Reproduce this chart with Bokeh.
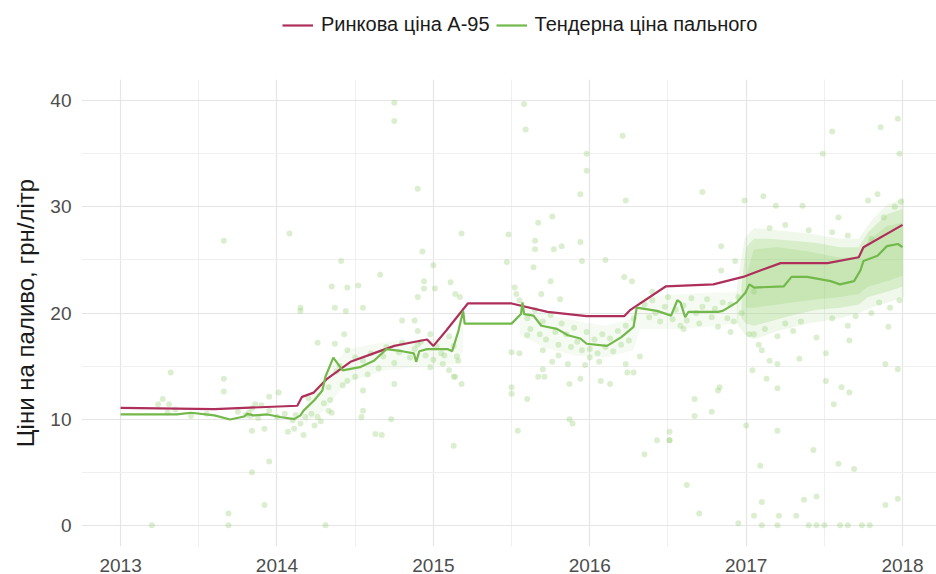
from bokeh.plotting import figure
from bokeh.layouts import column
from bokeh.models import FixedTicker, Legend, LegendItem
from bokeh.embed import file_html
from bokeh.resources import INLINE

# ---- data (decimal years) ----
market_x = [2013.0, 2013.6, 2014.13, 2014.16, 2014.235, 2014.32, 2014.47, 2014.6, 2014.75,
            2014.85, 2014.96, 2015.0, 2015.08, 2015.22, 2015.5, 2015.73, 2015.98, 2016.22,
            2016.26, 2016.485, 2016.79, 2016.98, 2017.09, 2017.22, 2017.52, 2017.72,
            2017.75, 2018.0]
market_y = [11.07, 10.95, 11.26, 12.1, 12.5, 13.8, 15.4, 16.1, 16.9,
            17.2, 17.5, 16.9, 18.3, 20.9, 20.9, 20.1, 19.7, 19.7,
            20.3, 22.5, 22.7, 23.4, 24.0, 24.7, 24.7, 25.25,
            26.2, 28.3]

tender_x = [2013.0, 2013.36, 2013.45, 2013.6, 2013.7, 2013.79, 2013.81, 2013.85, 2013.94,
            2014.02, 2014.11, 2014.15, 2014.17, 2014.24, 2014.29, 2014.31, 2014.36, 2014.42,
            2014.53, 2014.62, 2014.7, 2014.8, 2014.875, 2014.89, 2014.91, 2014.96, 2015.09,
            2015.12, 2015.16, 2015.19, 2015.2, 2015.5, 2015.56, 2015.57, 2015.58, 2015.64,
            2015.69, 2015.79, 2015.86, 2015.94, 2015.98, 2016.11, 2016.2, 2016.28, 2016.3,
            2016.43, 2016.52, 2016.56, 2016.58, 2016.61, 2016.63, 2016.82, 2016.85, 2016.94,
            2016.995, 2017.02, 2017.05, 2017.24, 2017.29, 2017.39, 2017.54, 2017.6, 2017.69,
            2017.73, 2017.75, 2017.84, 2017.9, 2017.97, 2018.0]
tender_y = [10.44, 10.44, 10.6, 10.35, 9.97, 10.25, 10.5, 10.35, 10.44,
            10.2, 10.0, 10.35, 10.8, 11.8, 12.7, 14.0, 15.8, 14.6,
            14.9, 15.5, 16.6, 16.4, 16.2, 15.4, 16.4, 16.6, 16.6,
            16.4, 18.3, 20.2, 19.0, 19.0, 19.9, 21.0, 19.9, 19.75,
            18.8, 18.5, 17.9, 17.6, 17.1, 16.9, 17.7, 18.7, 20.5,
            20.2, 19.75, 21.2, 21.0, 19.6, 20.1, 20.1, 20.2, 21.0,
            21.9, 22.7, 22.4, 22.5, 23.4, 23.4, 23.0, 22.7, 23.0,
            24.0, 24.9, 25.4, 26.3, 26.5, 26.2]

# individual tenders (scatter)
tender_pts_x = [
    2014.75, 2014.75, 2014.9, 2013.66, 2014.08, 2015.18, 2014.41, 2014.93, 2014.66, 2014.35,
    2014.45, 2014.52, 2014.94, 2014.94, 2014.9, 2015.01, 2015.11, 2015.14, 2015.17, 2015.0,
    2014.15, 2014.37, 2014.55, 2015.58, 2015.59, 2016.21, 2017.97, 2017.86, 2017.55, 2015.98,
    2015.98, 2017.49, 2017.98, 2015.94, 2016.23, 2016.72, 2016.99, 2017.11, 2017.19, 2017.36,
    2015.67, 2015.76, 2015.48, 2015.65, 2015.65, 2015.77, 2015.82, 2015.94, 2015.47, 2015.95,
    2016.1, 2016.84, 2017.59, 2017.78, 2017.84, 2015.64, 2015.75, 2015.81, 2015.69, 2016.22,
    2016.27, 2016.93, 2016.84, 2015.52, 2015.53, 2015.55,
    2013.32, 2013.66, 2013.66, 2013.27, 2013.24, 2013.31, 2014.01, 2013.95, 2013.9,
    2013.84, 2013.86, 2013.84, 2013.92, 2013.95, 2013.84, 2013.92, 2013.69, 2013.69, 2014.31,
    2014.11, 2014.07, 2014.17, 2014.24, 2014.26, 2014.34, 2014.33, 2014.43, 2014.37, 2014.15,
    2014.44, 2014.45, 2014.55, 2014.55, 2014.54, 2014.63, 2014.67, 2014.75, 2015.13, 2015.13,
    2014.73, 2014.8, 2014.9, 2014.98, 2014.88, 2014.98, 2015.06, 2015.1, 2015.14, 2015.18, 2015.16,
    2015.5, 2015.5, 2015.5, 2015.54, 2015.6, 2015.7, 2015.71, 2015.87, 2015.87, 2015.89, 2015.94,
    2016.07, 2016.13, 2016.24, 2016.28, 2015.67, 2015.76, 2015.86, 2015.97, 2016.06, 2016.23,
    2016.35, 2016.43, 2016.51, 2016.51, 2016.51, 2016.62, 2016.67, 2016.78, 2016.82, 2016.83,
    2016.67, 2016.7, 2016.95, 2017.0, 2017.04, 2017.13, 2017.2, 2017.34, 2017.51, 2017.51,
    2017.56, 2017.61, 2017.66, 2017.66, 2017.91, 2017.89, 2017.97, 2017.2, 2017.2, 2017.59,
    2017.43, 2017.69, 2017.09, 2017.1, 2017.21, 2017.32, 2017.37, 2017.45, 2017.89, 2017.97,
    2017.05, 2017.1, 2017.2, 2017.4, 2017.45, 2017.5, 2017.6, 2017.65, 2017.74, 2017.79,
    2013.2, 2013.3, 2013.35, 2013.45, 2013.55, 2013.75, 2013.8, 2013.82, 2013.83, 2013.88,
    2013.95, 2014.0, 2014.05, 2014.1, 2014.12, 2014.15, 2014.18,
    2014.35, 2014.4, 2014.45, 2014.5, 2014.55, 2014.6, 2014.65, 2014.7, 2014.75, 2014.8,
    2014.85, 2014.9, 2014.95, 2015.0, 2015.05, 2015.1, 2015.15, 2014.26, 2014.3, 2014.2,
    2014.22, 2014.28, 2014.33, 2014.38, 2014.42, 2014.5, 2014.58, 2014.68, 2014.78, 2014.88,
    2014.92, 2015.02, 2015.07, 2015.13,
    2015.55, 2015.6, 2015.62, 2015.65, 2015.68, 2015.7, 2015.72, 2015.75, 2015.78, 2015.8,
    2015.82, 2015.85, 2015.88, 2015.9, 2015.92, 2015.95, 2015.98, 2016.0, 2016.03, 2016.05,
    2016.08, 2016.1, 2016.13, 2016.15, 2016.18, 2016.2, 2016.23, 2016.25, 2016.28, 2015.6,
    2015.7, 2015.8, 2016.0,
    2016.32, 2016.35, 2016.38, 2016.4, 2016.42, 2016.45, 2016.48, 2016.5, 2016.53, 2016.55,
    2016.58, 2016.6, 2016.62, 2016.65, 2016.68, 2016.7, 2016.72, 2016.75, 2016.78, 2016.8,
    2016.82, 2016.85, 2016.88, 2016.9, 2016.92, 2016.95, 2016.97, 2016.4, 2016.6, 2016.9,
    2017.02, 2017.05, 2017.08, 2017.1, 2017.12, 2017.15, 2017.2, 2017.25, 2017.3, 2017.35,
    2017.45, 2017.55, 2017.65, 2017.7, 2017.8, 2017.85, 2017.92, 2017.98, 2017.05, 2017.15,
    2017.25, 2017.4, 2017.55, 2017.65, 2017.8, 2017.88, 2017.95, 2017.99,
]
tender_pts_y = [
    39.8, 38.1, 31.7, 26.8, 27.5, 27.5, 24.9, 25.8, 23.6, 22.5,
    22.4, 22.6, 23.0, 22.3, 21.5, 22.3, 22.9, 21.8, 21.5, 24.5,
    20.5, 20.5, 20.5, 39.7, 37.3, 36.7, 38.3, 37.5, 37.1, 35.0,
    33.4, 35.0, 35.0, 31.2, 30.6, 31.4, 30.6, 31.0, 30.1, 30.1,
    28.5, 29.1, 27.4, 26.8, 26.0, 26.0, 26.3, 26.7, 24.8, 24.9,
    25.0, 26.3, 29.0, 30.6, 31.2, 24.3, 23.0, 21.3, 21.8, 23.4,
    23.0, 24.9, 24.0, 22.4, 21.8, 21.2,
    14.4, 13.8, 12.6, 11.9, 11.4, 11.4, 12.5, 12.1, 11.3,
    11.0, 11.4, 8.9, 9.1, 6.0, 5.0, 1.9, 1.1, 0.0, 0.0,
    9.1, 8.8, 8.5, 9.4, 10.2, 11.8, 10.8, 18.0, 17.1, 20.2,
    20.2, 13.6, 12.7, 10.8, 10.2, 8.6, 8.5, 13.3, 14.0, 7.5, 10.0,
    19.3, 18.3, 18.0, 19.3, 14.9, 15.2, 14.6, 14.0, 13.3, 15.5, 12.4,
    16.3, 13.0, 8.9, 11.9, 14.7, 14.0, 13.3, 10.0, 9.6, 13.8, 13.6,
    13.3, 14.4, 14.4, 14.0, 15.4, 15.2, 15.1, 15.4, 15.2, 6.7,
    8.0, 8.0, 8.0, 8.8, 3.8, 10.3, 10.7, 12.7, 13.0, 11.9,
    1.1, 0.2, 9.4, 14.6, 13.8, 15.2, 15.7, 13.6, 16.2, 11.4,
    13.0, 12.5, 17.4, 18.7, 15.2, 14.7, 12.9, 8.9, 5.8, 7.1,
    5.3, 5.6, 2.2, 0.9, 0.9, 2.4, 2.7, 1.9, 2.5, 0.9,
    0.0, 0.0, 0.0, 0.0, 0.0, 0.0, 0.0, 0.0, 0.0, 0.0,
    10.6, 10.9, 10.3, 10.5, 10.7, 10.4, 10.6, 10.3, 10.1, 10.8,
    10.2, 10.5, 9.9, 10.4, 9.6, 10.2, 10.6,
    15.0, 16.5, 14.0, 15.5, 16.2, 14.8, 16.8, 15.3, 17.2, 15.8,
    17.0, 16.0, 15.6, 16.2, 17.8, 15.9, 17.2, 11.5, 12.0, 10.5,
    9.8, 13.0, 14.5, 13.2, 15.8, 14.2, 15.9, 16.3, 16.6, 17.3,
    16.9, 16.0, 16.9, 16.2,
    19.5, 18.5, 20.3, 18.0, 19.2, 17.5, 19.8, 18.2, 17.0, 19.0,
    18.0, 16.8, 18.6, 17.3, 16.5, 18.2, 16.6, 17.5, 16.2, 18.0,
    16.8, 17.6, 16.4, 18.3, 17.0, 18.8, 17.4, 19.5, 17.9, 16.5,
    16.0, 15.8, 15.9,
    20.8, 19.6, 21.2, 20.0, 19.2, 20.6, 21.5, 19.4, 20.3, 18.8,
    20.7, 19.3, 21.4, 20.0, 19.0, 20.6, 21.3, 19.6, 20.4, 18.7,
    21.0, 19.5, 20.8, 19.2, 21.5, 20.0, 22.0, 18.5, 18.2, 18.0,
    18.0, 17.0, 16.5, 18.5, 15.5, 17.8, 19.0, 18.3, 19.2, 17.7,
    19.5, 18.8, 19.7, 20.0, 21.0, 20.5, 21.2, 22.0, 28.0, 28.3,
    27.8, 27.6, 27.3, 27.0, 29.0, 30.0, 30.5, 29.5,
]

# denser tender clouds (faint haze 2014-2015 and 2015-2016, envelopes for 2017)
haze1_x = [2014.18, 2014.3, 2014.45, 2014.7, 2014.95, 2015.15, 2015.19]
haze1_lo = [9.6, 10.8, 13.5, 14.6, 15.0, 15.2, 16.5]
haze1_hi = [11.2, 14.3, 16.6, 17.3, 17.5, 17.8, 19.0]
haze2_x = [2015.55, 2015.7, 2015.9, 2016.1, 2016.28, 2016.32, 2016.6, 2016.95]
haze2_lo = [18.0, 16.8, 16.0, 15.8, 16.5, 18.5, 18.5, 19.0]
haze2_hi = [20.5, 20.0, 19.3, 18.8, 19.5, 21.5, 21.8, 22.0]
halo_x = [2016.94, 2016.99, 2017.05, 2017.2, 2017.4, 2017.6, 2017.72, 2017.8, 2017.9, 2018.01]
halo_lo = [19.0, 18.0, 17.5, 18.3, 19.0, 19.5, 20.0, 20.5, 21.0, 21.5]
halo_hi = [22.5, 27.0, 28.0, 27.8, 27.5, 27.0, 27.0, 28.7, 30.2, 30.8]
cloud_x = [2016.97, 2017.0, 2017.05, 2017.15, 2017.3, 2017.45, 2017.6, 2017.72, 2017.78, 2017.9, 2018.0]
cloud_lo = [19.5, 19.0, 18.8, 19.2, 19.8, 20.3, 20.5, 20.8, 21.5, 22.0, 22.5]
cloud_hi = [22.5, 26.2, 27.0, 27.0, 26.8, 26.6, 26.2, 26.2, 27.6, 29.3, 29.8]
core_x = [2017.0, 2017.05, 2017.2, 2017.4, 2017.6, 2017.72, 2017.78, 2017.9, 2018.0]
core_lo = [20.5, 20.5, 20.8, 21.2, 21.5, 21.8, 22.5, 23.0, 23.5]
core_hi = [23.5, 26.0, 26.2, 25.8, 25.2, 25.3, 26.8, 28.2, 28.5]

years = [2013, 2014, 2015, 2016, 2017, 2018]
half_years = [2012.5, 2013.5, 2014.5, 2015.5, 2016.5, 2017.5, 2018.5]
y_ticks = [0, 10, 20, 30, 40]
y_minor = [-5, 5, 15, 25, 35, 45]
series_names = ["Ринкова ціна А-95", "Тендерна ціна пального"]

RED = "#ae2f5a"
GREEN = "#72b84a"
PT = "#93cf70"
FONT = "Liberation Sans"

W, H = 936, 574
TOP_H = 40
LEFT = 81

# ---- legend strip on top (its lines hold the same series, outside its view) ----
top = figure(width=W, height=TOP_H, x_range=(0, 1), y_range=(0, 1),
             output_backend="svg", toolbar_location=None,
             min_border_left=LEFT, min_border_right=0, min_border_top=0, min_border_bottom=0)
top.outline_line_color = None
top.axis.visible = False
top.grid.visible = False
lg_market = top.line(market_x, market_y, line_color=RED, line_width=2.2)
lg_tender = top.line(tender_x, tender_y, line_color=GREEN, line_width=2.2)
legend = Legend(items=[LegendItem(label=series_names[0], renderers=[lg_market]),
                       LegendItem(label=series_names[1], renderers=[lg_tender])],
                location=(201, 4), orientation="horizontal",
                label_text_font=FONT, label_text_font_size="20px", label_text_color="#1a1a1a",
                glyph_width=31, glyph_height=20, label_standoff=8, spacing=6,
                padding=0, margin=0, border_line_color=None, background_fill_alpha=0)
top.add_layout(legend)

# ---- main chart ----
p = figure(width=W, height=H - TOP_H, x_range=(2012.75, 2018.217), y_range=(-2.0, 42.0),
           output_backend="svg", toolbar_location=None,
           min_border_left=LEFT, min_border_right=0, min_border_top=79 - TOP_H,
           min_border_bottom=28)
p.outline_line_color = None
p.background_fill_color = "white"

p.varea(x=haze1_x, y1=haze1_lo, y2=haze1_hi, fill_color=PT, fill_alpha=0.09)
p.varea(x=haze2_x, y1=haze2_lo, y2=haze2_hi, fill_color=PT, fill_alpha=0.09)
p.varea(x=halo_x, y1=halo_lo, y2=halo_hi, fill_color=PT, fill_alpha=0.15)
p.varea(x=cloud_x, y1=cloud_lo, y2=cloud_hi, fill_color=PT, fill_alpha=0.25)
p.varea(x=core_x, y1=core_lo, y2=core_hi, fill_color=PT, fill_alpha=0.25)
p.scatter(x=tender_pts_x, y=tender_pts_y, size=6, fill_color=PT, line_color=None, fill_alpha=0.33)

p.line(market_x, market_y, line_color=RED, line_width=2.2)
p.line(tender_x, tender_y, line_color=GREEN, line_width=2.2)

p.xaxis.ticker = FixedTicker(ticks=years, minor_ticks=half_years)
p.yaxis.ticker = FixedTicker(ticks=y_ticks, minor_ticks=y_minor)
p.xaxis.major_label_overrides = {y: str(y) for y in years}

for ax in (p.xaxis[0], p.yaxis[0]):
    ax.axis_line_color = None
    ax.major_tick_line_color = None
    ax.minor_tick_line_color = None
    ax.major_label_text_font = FONT
    ax.major_label_text_font_size = "19px"
    ax.major_label_text_color = "#4d4d4d"
p.xaxis.major_label_standoff = 6
p.yaxis.major_label_standoff = 4
p.yaxis.axis_label = "Ціни на паливо, грн/літр"
p.yaxis.axis_label_text_font = FONT
p.yaxis.axis_label_text_font_size = "24px"
p.yaxis.axis_label_text_font_style = "normal"
p.yaxis.axis_label_text_color = "#1a1a1a"
p.yaxis.axis_label_standoff = 8

for g in (p.xgrid[0], p.ygrid[0]):
    g.grid_line_color = "#e5e5e5"
    g.grid_line_width = 1.2
    g.minor_grid_line_color = "#efefef"
    g.minor_grid_line_width = 1

layout = column(top, p, spacing=0)
open("out.html", "w").write(file_html(layout, INLINE))
